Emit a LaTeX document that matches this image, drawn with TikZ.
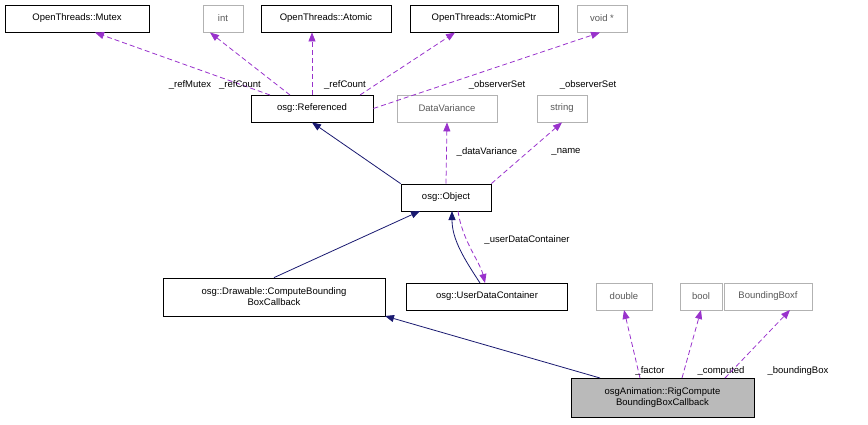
\documentclass[tikz,border=0pt]{standalone}
\usepackage{fontspec}
\setmainfont{Liberation Sans}
\usetikzlibrary{arrows.meta}
\definecolor{nav}{RGB}{25,25,112}
\definecolor{pur}{RGB}{153,50,204}
\begin{document}
\begin{tikzpicture}[x=1pt,y=-1pt,font=\fontsize{9.5}{11}\selectfont,line width=0.8pt,
 box/.style={draw=black,fill=white,inner sep=0pt,minimum height=27pt,align=center},
 gbox/.style={draw=black!30,fill=white,inner sep=0pt,minimum height=27pt,text=black!65},
 inh/.style={draw=nav,-{Triangle[length=9pt,width=7pt,fill=nav]}},
 use/.style={draw=pur,dash pattern=on 5pt off 3pt,-{Triangle[length=9pt,width=7pt,fill=pur]}},
 lab/.style={inner sep=1pt}]
\useasboundingbox (0,0) rectangle (868,424);
\node[box,minimum width=144pt] (mutex) at (77,18.5) {OpenThreads::Mutex};
\node[gbox,minimum width=40pt] (int) at (223,18.5) {int};
\node[box,minimum width=130pt] (atomic) at (326,18.5) {OpenThreads::Atomic};
\node[box,minimum width=148pt] (aptr) at (484,18.5) {OpenThreads::AtomicPtr};
\node[gbox,minimum width=50pt] (void) at (602,18.5) {void *};
\node[box,minimum width=122pt] (ref) at (312,108.5) {osg::Referenced};
\node[gbox,minimum width=100pt] (dv) at (447,108.5) {DataVariance};
\node[gbox,minimum width=50pt] (str) at (562,108.5) {string};
\node[box,minimum width=90pt] (obj) at (446,197.5) {osg::Object};
\node[box,minimum width=222pt,minimum height=38pt] (cbb) at (274,297) {osg::Drawable::ComputeBounding\\BoxCallback};
\node[box,minimum width=161pt] (udc) at (487,296.5) {osg::UserDataContainer};
\node[gbox,minimum width=56pt] (dbl) at (624,296.5) {double};
\node[gbox,minimum width=42pt] (bool) at (701,296.5) {bool};
\node[gbox,minimum width=88pt] (bbf) at (768,296.5) {BoundingBoxf};
\node[box,fill=black!27,minimum width=183pt,minimum height=39pt] (rig) at (662.5,397.5) {osgAnimation::RigCompute\\BoundingBoxCallback};

\coordinate (r1) at (270,95); \coordinate (r2) at (290,95); \coordinate (r3) at (360,95);
\draw[use] (r1) -- (95,32.5) coordinate (m1);
\node[lab] at (190,85) {\_refMutex};
\draw[use] (r2) -- (210,32.5);
\node[lab] at (240,85) {\_refCount};
\draw[use] (ref.north) -- (atomic.south -| ref.north);
\node[lab] at (345,85) {\_refCount};
\draw[use] (r3) -- (455,32.5);
\node[lab] at (497,85) {\_observerSet};
\draw[use] (ref.east) -- (600,32.5);
\node[lab] at (588,85) {\_observerSet};

\draw[inh] (obj.north west) -- (ref.south);
\draw[use] (obj.north) -- (dv.south);
\node[lab] at (487,152) {\_dataVariance};
\draw[use] (obj.north east) -- (str.south);
\node[lab] at (566,152) {\_name};

\coordinate (u1) at (480,283); \coordinate (u2) at (485,283);
\draw[inh] (u1) .. controls (465,260) and (452,240) .. (452,211);
\draw[use] (458,211) .. controls (462,240) and (480,262) .. (u2);
\node[lab] at (527,240) {\_userDataContainer};
\draw[inh] (cbb.north) -- (420,211);

\coordinate (rn) at (600,378);
\draw[inh] (rn) -- (385,316);
\draw[use] (640,378) -- (624,310);
\node[lab] at (650,371) {\_factor};
\draw[use] (682,378) -- (701,310);
\node[lab] at (721,371) {\_computed};
\draw[use] (725,378) -- (790,310);
\node[lab] at (798,371) {\_boundingBox};
\end{tikzpicture}
\end{document}
